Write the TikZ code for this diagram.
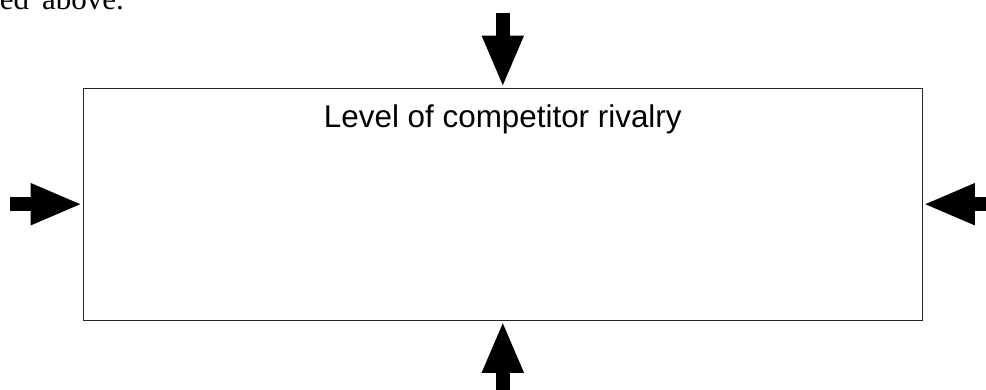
\documentclass[tikz,border=0pt]{standalone}
\usepackage{fontspec}
\setmainfont{Liberation Serif}
\newfontfamily\labelfont{Liberation Sans}
\usetikzlibrary{arrows.meta}
\begin{document}
\begin{tikzpicture}[x=1pt,y=1pt,line join=miter,
  fat/.style={line width=14pt,-{Triangle[length=52pt,width=38pt]}},
  force/.style={draw=black!85,line width=1.2pt,minimum width=839pt,minimum height=232pt,inner sep=0pt}]
\def \W{986};
\def \H{390};
\useasboundingbox (0,0) rectangle (\W,\H);
\clip (0,0) rectangle (\W,\H);
\node[anchor=base east,inner sep=0pt,font=\fontsize{31}{36}\selectfont] (prev) at (124,380.5) {ted\hspace{13pt}above.};
\node[force] (rivalry) at (502.8,185.8) {};
\node[anchor=base,inner sep=0pt,font=\labelfont\fontsize{31.4}{36}\selectfont] (title) at ([yshift=-40]rivalry.north) {Level of competitor rivalry};
\coordinate (ntop) at (rivalry.north |- 0,377);
\coordinate (nbot) at (rivalry.south |- 0,-10);
\coordinate (nleft) at (10,0 |- rivalry.west);
\coordinate (nright) at (996,0 |- rivalry.east);
\foreach \s/\t in {ntop/north,nbot/south,nleft/west,nright/east}{\draw[fat] (\s) -- (rivalry.\t);}
\end{tikzpicture}
\end{document}
